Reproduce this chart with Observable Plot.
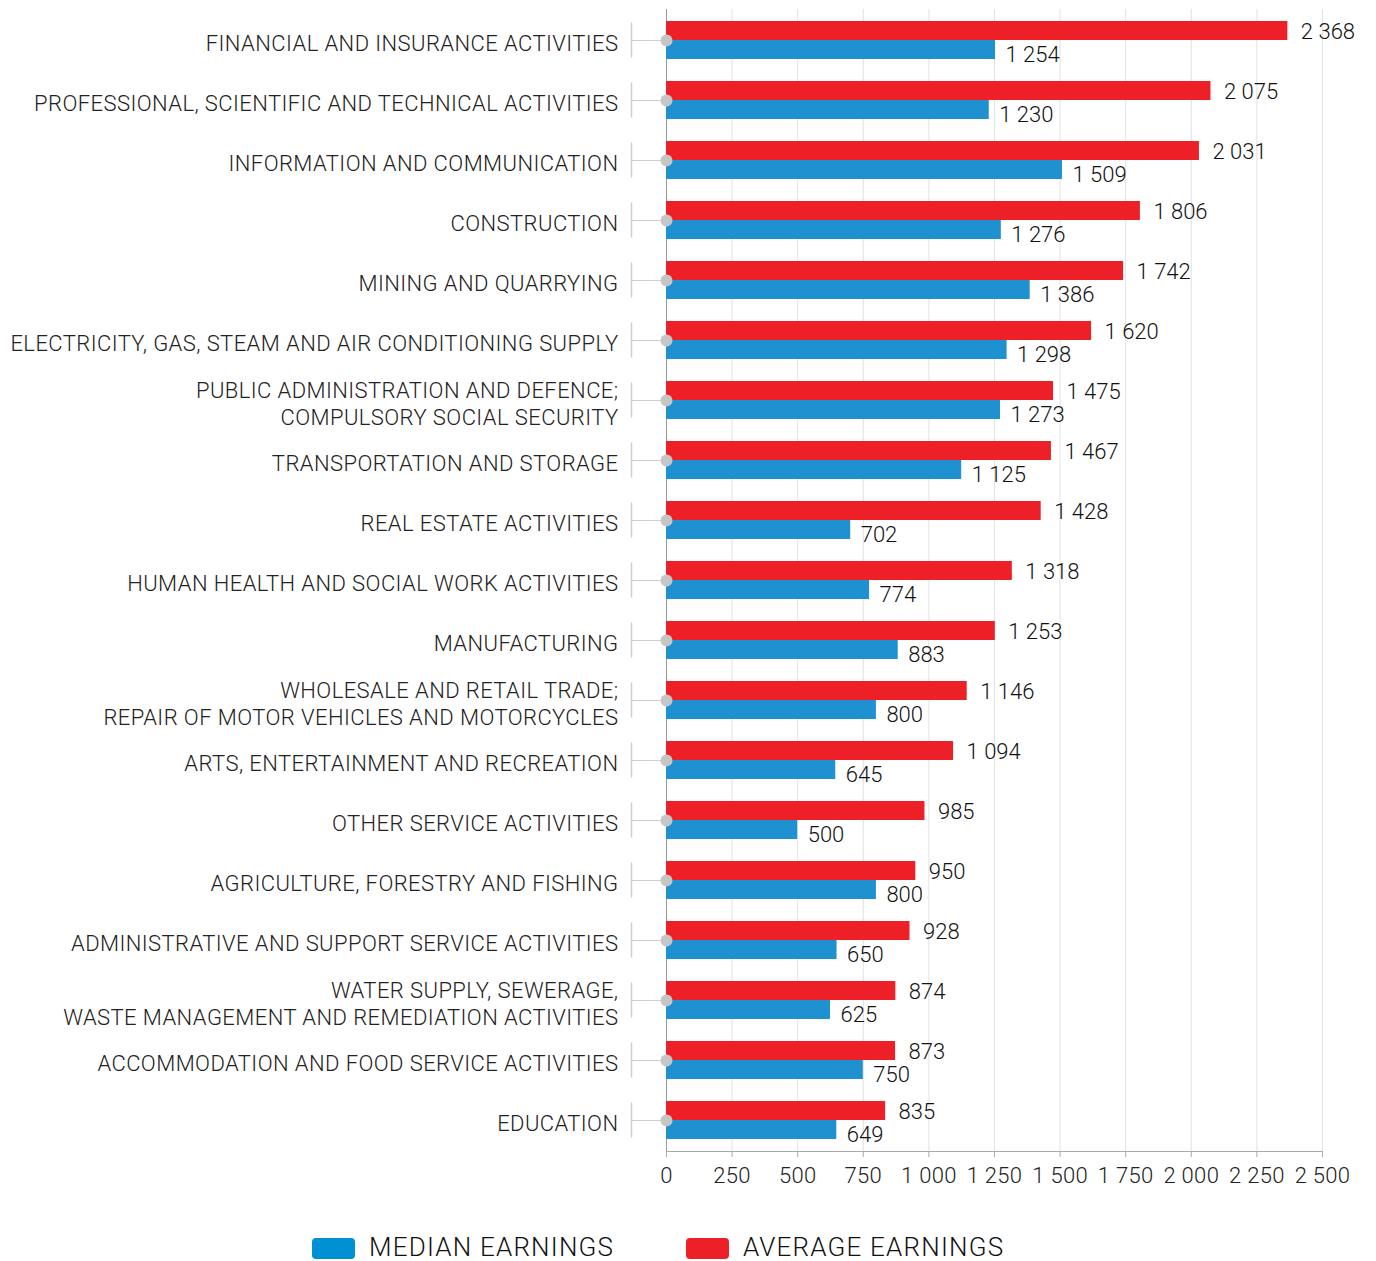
<!DOCTYPE html>
<html>
<head>
<meta charset="utf-8">
<script src="https://cdn.jsdelivr.net/npm/d3@7"></script>
<script src="https://cdn.jsdelivr.net/npm/@observablehq/plot@0.6"></script>
<style>
  body { margin: 0; background: #fff; font-family: Roboto, "Noto Sans", sans-serif; }
  #legend { position: relative; height: 24px; margin-top: 35px; }
  .item { position: absolute; top: 0; display: flex; align-items: flex-start; font-size: 26px; line-height: 24px; font-weight: 300; color: #111; letter-spacing: 1.2px; }
  .sw { width: 43px; height: 21px; border-radius: 4px; margin-right: 14px; margin-top: 3px; }
  .cat, .cat text { letter-spacing: 0.42px; }
  .xax, .xax text { letter-spacing: 0.3px; }
</style>
</head>
<body>
<div id="chart"></div>
<div id="legend">
  <div class="item" style="left:312px"><div class="sw" style="background:#0091d5"></div>MEDIAN EARNINGS</div>
  <div class="item" style="left:686px"><div class="sw" style="background:#ee2027"></div>AVERAGE EARNINGS</div>
</div>
<script>
const categories = [
  "FINANCIAL AND INSURANCE ACTIVITIES",
  "PROFESSIONAL, SCIENTIFIC AND TECHNICAL ACTIVITIES",
  "INFORMATION AND COMMUNICATION",
  "CONSTRUCTION",
  "MINING AND QUARRYING",
  "ELECTRICITY, GAS, STEAM AND AIR CONDITIONING SUPPLY",
  "PUBLIC ADMINISTRATION AND DEFENCE;\nCOMPULSORY SOCIAL SECURITY",
  "TRANSPORTATION AND STORAGE",
  "REAL ESTATE ACTIVITIES",
  "HUMAN HEALTH AND SOCIAL WORK ACTIVITIES",
  "MANUFACTURING",
  "WHOLESALE AND RETAIL TRADE;\nREPAIR OF MOTOR VEHICLES AND MOTORCYCLES",
  "ARTS, ENTERTAINMENT AND RECREATION",
  "OTHER SERVICE ACTIVITIES",
  "AGRICULTURE, FORESTRY AND FISHING",
  "ADMINISTRATIVE AND SUPPORT SERVICE ACTIVITIES",
  "WATER SUPPLY, SEWERAGE,\nWASTE MANAGEMENT AND REMEDIATION ACTIVITIES",
  "ACCOMMODATION AND FOOD SERVICE ACTIVITIES",
  "EDUCATION"
];
const averageEarnings = [2368, 2075, 2031, 1806, 1742, 1620, 1475, 1467, 1428, 1318, 1253, 1146, 1094, 985, 950, 928, 874, 873, 835];
const medianEarnings = [1254, 1230, 1509, 1276, 1386, 1298, 1273, 1125, 702, 774, 883, 800, 645, 500, 800, 650, 625, 750, 649];
const xTicks = [0, 250, 500, 750, 1000, 1250, 1500, 1750, 2000, 2250, 2500];

const RED = "#ee2027", BLUE = "#1f91d0";
const fmt = d3.formatLocale({decimal: ",", thousands: " ", grouping: [3], currency: ["", ""]}).format(",d");
const data = categories.map((c, i) => ({cat: c, average: averageEarnings[i], median: medianEarnings[i]}));

const chart = Plot.plot({
  width: 1376,
  height: 1200,
  marginLeft: 666,
  marginRight: 54,
  marginTop: 9,
  marginBottom: 49,
  style: {fontFamily: "Roboto, 'Noto Sans', sans-serif", background: "#fff"},
  x: {domain: [0, 2500], label: null},
  y: {domain: categories, paddingInner: 0.367, paddingOuter: 0.1835, label: null, axis: null},
  marks: [
    Plot.gridX(xTicks, {stroke: "#e2e2e2", strokeOpacity: 1}),
    Plot.frame({anchor: "bottom", stroke: "#aaa"}),
    Plot.axisX(xTicks, {tickSize: 6, tickPadding: 10, tickFormat: fmt, stroke: "#aaa", fill: "#222", fontSize: 22, fontWeight: 300, label: null, className: "xax"}),
    Plot.axisY({tickSize: 35, tickFormat: () => "", stroke: "#cfcfcf", label: null}),
    Plot.tickX(categories, {x: 0, y: d => d, dx: -35, stroke: "#cfcfcf", strokeWidth: 1.5, insetTop: 1.5, insetBottom: 1.5}),
    Plot.ruleX([0], {stroke: "#999"}),
    Plot.barX(data, {x: "average", y: "cat", fill: RED, insetBottom: 19}),
    Plot.barX(data, {x: "median", y: "cat", fill: BLUE, insetTop: 19}),
    Plot.dot(categories, {x: 0, y: d => d, r: 6, fill: "#c6c6c6", stroke: null}),
    Plot.text(data, {x: "average", y: "cat", text: d => fmt(d.average), dx: 13, dy: -9, textAnchor: "start", fontSize: 22, fontWeight: 300, fill: "#111"}),
    Plot.text(data, {x: "median", y: "cat", text: d => fmt(d.median), dx: 10, dy: 14, textAnchor: "start", fontSize: 22, fontWeight: 300, fill: "#111"}),
    Plot.text(data, {x: 0, y: "cat", text: "cat", dx: -48, dy: 2, textAnchor: "end", lineHeight: 1.23, fontSize: 22, fontWeight: 300, fill: "#222", className: "cat"})
  ]
});
document.getElementById("chart").appendChild(chart);
</script>
</body>
</html>
